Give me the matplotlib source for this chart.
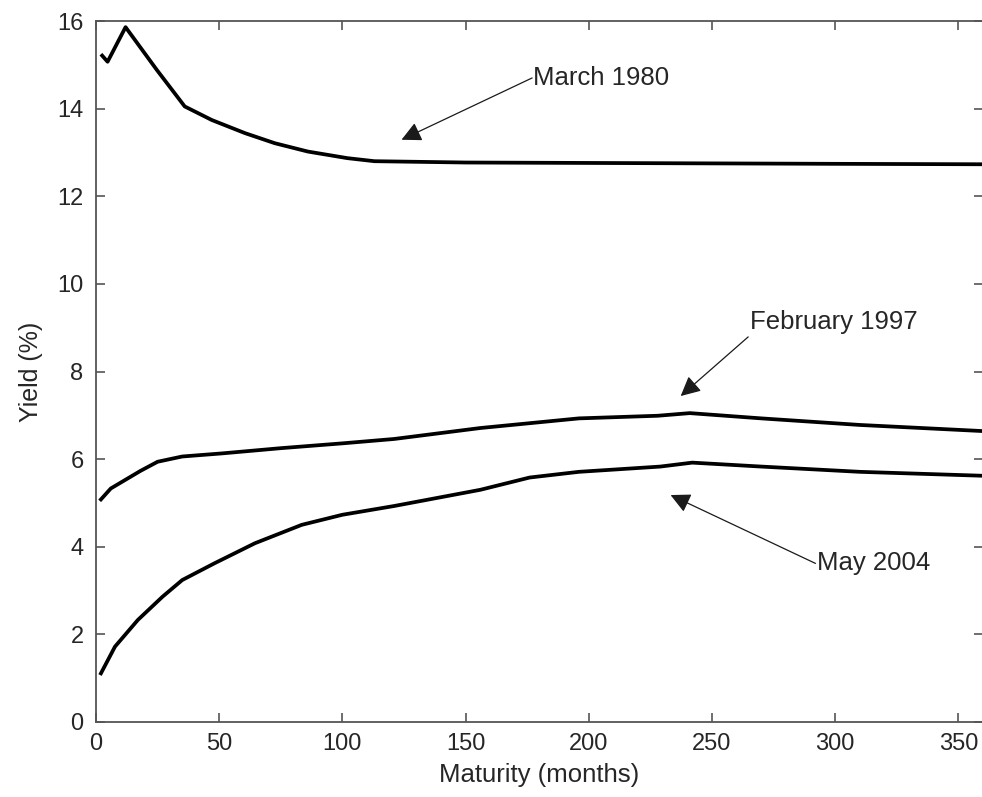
import matplotlib
matplotlib.use("Agg")
import matplotlib.pyplot as plt

# maturity (months) / yield (%)
mar80_m = [2.5, 4.7, 12, 24.6, 36, 47, 60.5, 72.6, 86, 102, 113, 150, 200, 250, 300, 360]
mar80_y = [15.21, 15.07, 15.86, 14.89, 14.05, 13.74, 13.44, 13.21, 13.02, 12.87, 12.80, 12.77, 12.76, 12.75, 12.74, 12.73]

feb97_m = [2, 6, 12, 18, 25, 35, 51, 75, 100, 121, 156, 196, 228, 241, 270, 310, 360]
feb97_y = [5.08, 5.33, 5.53, 5.73, 5.94, 6.06, 6.13, 6.25, 6.36, 6.46, 6.71, 6.93, 6.99, 7.05, 6.93, 6.78, 6.64]

may04_m = [2, 7.7, 17, 27, 35, 48, 64.5, 83.5, 100, 121, 156, 176, 196, 229, 242, 270, 310, 360]
may04_y = [1.11, 1.72, 2.33, 2.86, 3.24, 3.62, 4.08, 4.50, 4.73, 4.93, 5.30, 5.58, 5.71, 5.83, 5.92, 5.83, 5.71, 5.62]

labels = ["March 1980", "February 1997", "May 2004"]
label_pos = [(177.5, 14.70), (265.5, 9.14), (292.5, 3.62)]
arrow_tail = [(177.0, 14.70), (264.7, 8.79), (292.0, 3.62)]
arrow_tip = [(124.0, 13.29), (237.3, 7.44), (233.2, 5.18)]

plt.rcParams['font.family'] = ['Liberation Sans', 'DejaVu Sans']
txt = '#262626'

fig = plt.figure(figsize=(9.82, 7.97), dpi=100)
ax = fig.add_axes([96 / 982., 75 / 797., 887 / 982., 701 / 797.])

for m, y in [(mar80_m, mar80_y), (feb97_m, feb97_y), (may04_m, may04_y)]:
    ax.plot(m, y, color='k', linewidth=2.7, solid_joinstyle='round')

for lab, pos, tail, tip in zip(labels, label_pos, arrow_tail, arrow_tip):
    ax.annotate('', xy=tip, xytext=tail,
                arrowprops=dict(arrowstyle='-|>', color='#1a1a1a', lw=0.9,
                                mutation_scale=30, shrinkA=0, shrinkB=0))
    ax.text(pos[0], pos[1], lab, ha='left', va='center', fontsize=18.5, color=txt)

ax.set_xlim(0, 360)
ax.set_ylim(0, 16)
ax.set_xticks(range(0, 351, 50))
ax.set_yticks(range(0, 17, 2))
ax.tick_params(direction='in', length=6.5, width=1.2, color='#555555',
               top=True, right=True, labelsize=17, labelcolor=txt)
ax.tick_params(axis='x', pad=8)
ax.tick_params(axis='y', pad=9)
for s in ax.spines.values():
    s.set_color('#555555')
    s.set_linewidth(1.3)

ax.set_xlabel('Maturity (months)', fontsize=18.5, color=txt, labelpad=6)
ax.set_ylabel('Yield (%)', fontsize=18, color=txt, labelpad=10)

fig.savefig('out.png', dpi=100)
